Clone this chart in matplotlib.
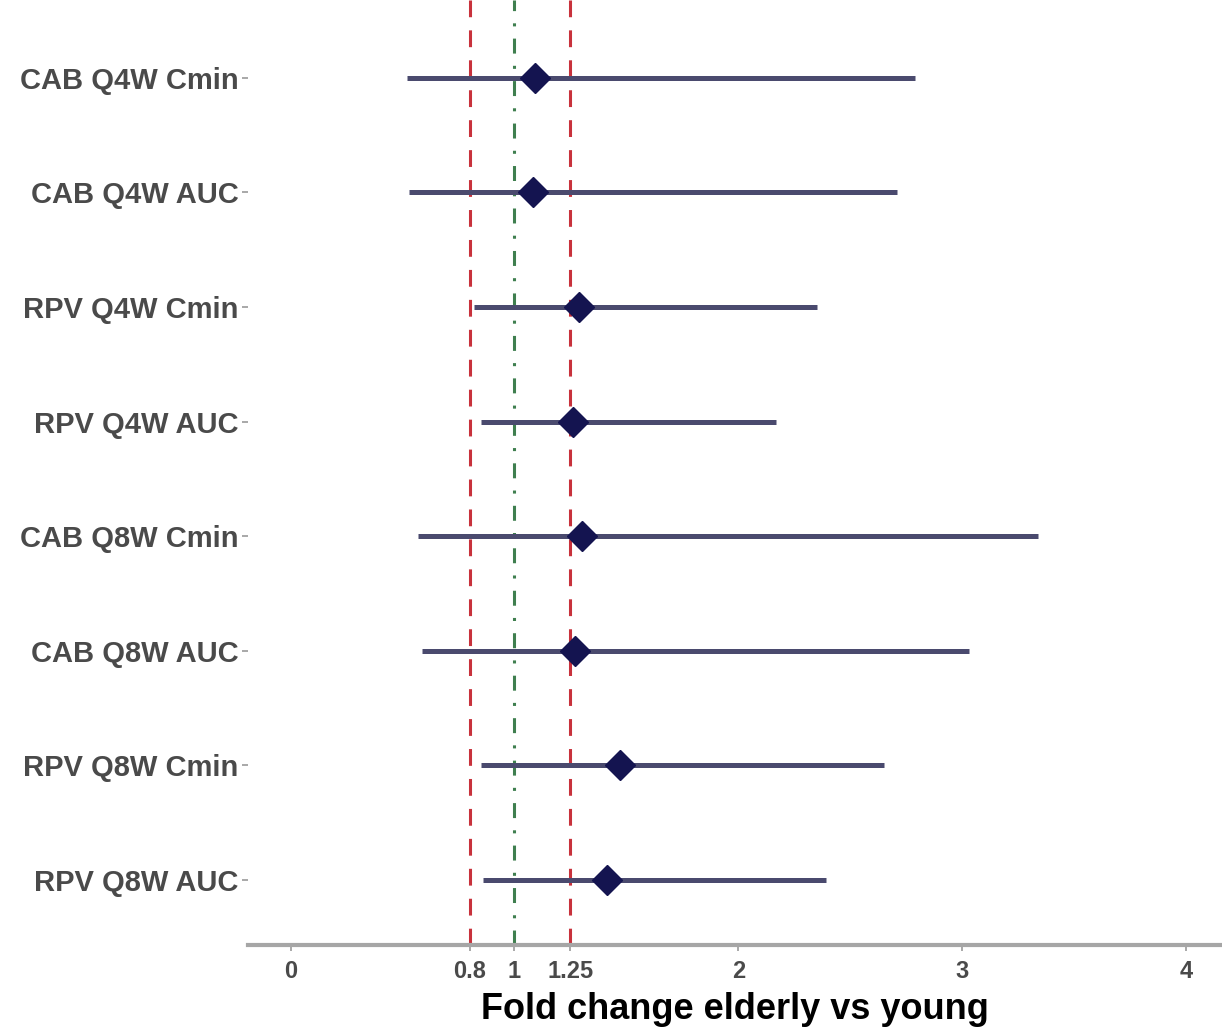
import matplotlib.pyplot as plt

labels = ["CAB Q4W Cmin", "CAB Q4W AUC", "RPV Q4W Cmin", "RPV Q4W AUC",
          "CAB Q8W Cmin", "CAB Q8W AUC", "RPV Q8W Cmin", "RPV Q8W AUC"]
point = [1.09, 1.085, 1.29, 1.26, 1.30, 1.27, 1.47, 1.415]
lower = [0.52, 0.53, 0.82, 0.85, 0.57, 0.585, 0.85, 0.86]
upper = [2.79, 2.71, 2.35, 2.17, 3.34, 3.03, 2.65, 2.39]
xticks = [0, 0.8, 1, 1.25, 2, 3, 4]
xticklabels = ["0", "0.8", "1", "1.25", "2", "3", "4"]

plt.rcParams['font.family'] = ['Liberation Sans', 'DejaVu Sans']

fig = plt.figure(figsize=(12.22, 10.29), dpi=100)
ax = fig.add_axes([248 / 1222, 1 - 945 / 1029, 1 - 248 / 1222, 945 / 1029])

ypos = list(range(len(labels), 0, -1))

ax.axvline(0.8, color="#c8323c", lw=2.2, dashes=(5.5, 4.3), zorder=1)
ax.axvline(1.25, color="#c8323c", lw=2.2, dashes=(5.5, 4.3), zorder=1)
ax.axvline(1, color="#3f7f4f", lw=2.2, dashes=(4.9, 4, 1, 4), zorder=1)

for y, lo, hi in zip(ypos, lower, upper):
    ax.plot([lo, hi], [y, y], color="#4a4a6e", lw=3.6, solid_capstyle="butt", zorder=2)
ax.plot(point, ypos, linestyle="none", marker="D", markersize=15,
        color="#141450", zorder=3)

ax.set_xlim(-0.19, 4.16)
ax.set_ylim(0.43, 8.68)
ax.set_yticks(ypos)
ax.set_yticklabels(labels, fontsize=21, fontweight="bold", color="#4a4a4a")
ax.set_xticks(xticks)
ax.set_xticklabels(xticklabels, fontsize=17, fontweight="bold", color="#4a4a4a")
ax.tick_params(axis="both", color="#9a9a9a", length=4, width=1.2)
ax.tick_params(axis="y", pad=3)
ax.tick_params(axis="x", pad=7)
ax.set_xlabel("Fold change elderly vs young", fontsize=26, fontweight="bold",
              color="black", labelpad=6)

for s in ["top", "right", "left"]:
    ax.spines[s].set_visible(False)
ax.spines["bottom"].set_color("#a6a6a6")
ax.spines["bottom"].set_linewidth(3)

fig.savefig("out.png", dpi=100)
